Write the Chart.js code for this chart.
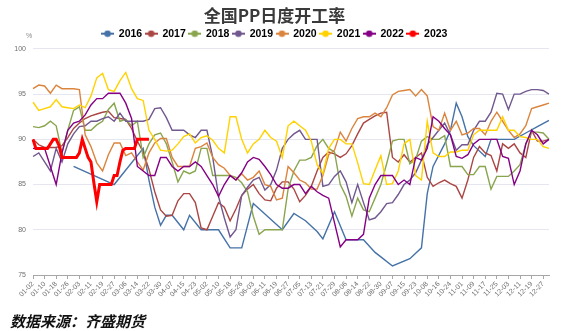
<!DOCTYPE html>
<html>
<head>
<meta charset="utf-8">
<script src="https://cdn.jsdelivr.net/npm/chart.js@4.4.1/dist/chart.umd.min.js"></script>
<style>
  body { margin: 0; background: #fff; }
  #wrap { position: relative; width: 566px; height: 331px; }
  #source {
    position: absolute; left: 10px; top: 312px;
    font: italic bold 15px "Noto Sans CJK SC", sans-serif;
    line-height: 18px; color: #111;
  }
</style>
</head>
<body>
<div id="wrap">
  <canvas id="rateChart" width="566" height="331"></canvas>
  <div id="source">数据来源：齐盛期货</div>
</div>
<script>
// daily calendar (leap-year layout), May Day and the October holiday are left out
const HOLIDAYS = ["05-01", "10-01", "10-02", "10-03", "10-04", "10-05", "10-06", "10-07"];
const days = [];
for (let d = new Date(2020, 0, 2); d.getFullYear() === 2020; d.setDate(d.getDate() + 1)) {
  const md = String(d.getMonth() + 1).padStart(2, "0") + "-" + String(d.getDate()).padStart(2, "0");
  if (!HOLIDAYS.includes(md)) days.push(md);
}

const years = ["2016", "2017", "2018", "2019", "2020", "2021", "2022", "2023"];
const colors = ["#4572A7", "#AA4643", "#89A54E", "#71588F", "#DB843D", "#FFD200", "#850085", "#FF0000"];

// utilisation rate (%), one value every 4 days, null = no reading
const y2016 = [
  null, null, null, null, null, null, null, 87, null, null,
  null, null, null, null, 85, null, null, null, null, 89,
  85.5, 82.5, 80.5, 81.6, 81.6, null, 80, 81.6, null, 80,
  null, null, 80, null, 78, null, 78, null, 82.9, null,
  null, null, null, 80, null, 81.8, null, 81, null, 79.8,
  79, null, 82, null, 78.9, null, null, 78.9, null, 77.5,
  77, null, 76, null, null, 76.8, null, 78, 84, 87,
  null, 89.5, 91, 94, 92.5, 90.3, 89.3, null, 88.1, 90,
  null, null, null, 90, null, 90.7, null, 91.4, null, 92.1
];
const y2017 = [
  90, 89.4, 89.1, 89.1, 89.1, 89.3, 90.2, 91.2, 91.8, 92.3,
  92.6, 92.8, 93, 93.1, 92.4, 92.3, 92.2, 91.2, 89.8, 88.6,
  86.7, 84.2, 82.2, 81.5, 81.6, 83.2, 84, 84, 83, 80.2,
  80, 81.5, 83, 82.5, 81, 82.3, 83.8, 84.5, 85, 84,
  83.3, 83.2, 84.6, 85.3, 85.3, 84.5, 83.1, 83.8, 84.8, 86.5,
  88, 88.6, 88.4, 88, 88.4, 89.3, 90.6, 91.8, 92.2, 92.6,
  92.9, 93, 88, 87.5, 88.3, 87.5, 88, 88.5, 85.8, 84.8,
  85.2, 85.5, 85.1, 84.8, 83.5, 85.5, 88, 89.2, 88.5, 88.2,
  86.5, 89.5, 89, 89.5, 88.5, 88, 91, 89.8, 89.8, 90
];
const y2018 = [
  91.4, 91.3, 91.5, 92, 91.5, 88.5, 91, 93.2, 93.6, 91,
  91, 91.6, 92, 93.3, 94, 92, 92.2, 91.5, 92, 88,
  89.5, 90.5, 90.7, 89.5, 87.5, 85.3, 86.5, 86.2, 86.5, 89,
  89, 86, 86, 86, 86, 85.8, 85.2, 84.2, 81.5, 79.5,
  80, 80, 80, 80, 84.5, 86.5, 87.7, 87.7, 88, 89.3,
  90, 89, 88.6, 85, 83.7, 81.5, 83.5, 82.2, 82, 83.5,
  85, 87.3, 89.8, 90, 90, 87.3, 87.8, 89.8, 90.3, 90,
  90, 90.4, 87, 87, 87, 86.1, 86.1, 87, 87, 84.5,
  85.9, 85.9, 85.9, 86.5, 87.2, 89.5, 90.8, 90.8, 90.7, 90
];
const y2019 = [
  88.1, 88.5, 87.5, 86.5, 89, 87.5, 89.5, 90.6, 91.4, 91.5,
  92, 92, 92.3, 92.5, 92, 92.9, 92, 92, 92, 92,
  92.2, 93.4, 93.5, 92.4, 91, 91, 91, 90.5, 90.2, 91,
  91, 88, 83.7, 81.3, 79.2, 80, 83.8, 84.7, 85.5, 85.8,
  84.4, 85, 86.6, 89, 90, 90.6, 91, 90, 90, 90,
  84.8, 85, 85.9, 86.5, 85.3, 83, 85, 83, 81.1, 81.3,
  82, 82.9, 83, 83.9, 85, 85.5, 86.3, 87.7, 89.4, 90.2,
  91, 91.8, 90.5, 88.8, 89.4, 89.4, 91, 92, 92, 93,
  95.1, 95, 93.3, 95, 95, 95.3, 95.5, 95.5, 95.4, 95
];
const y2020 = [
  95.6, 96, 95.9, 95.1, 96, 95.6, 95.6, 95.6, 95.5, 90.5,
  89.2, 87.4, 86.5, 88.3, 89.6, 89.6, 88.2, 88.5, 87.5, 86.6,
  88.5, 89.6, 90.1, 90.1, 88, 87, 87, 87, 89, 89.2,
  89.6, 88, 87.2, 86.8, 86, 85.5, 86.2, 85.5, 85.8, 86.5,
  85, 84.8, 83.3, 83.5, 87, 86.3, 85.5, 85.2, 84.5, 84.5,
  86, 88.3, 88.8, 90.8, 89.8, 91.2, 92.3, 92.5, 92.5, 92.9,
  92.5, 93.5, 94.9, 95.3, 95.4, 95.5, 94.8, 95.5, 94.8, 91.4,
  91, 92.9, 91, 92, 90.5, 90.7, 91.2, 91.2, 90.5, 92,
  93, 92, 91, 90.2, 90.6, 91.5, 93.4, 93.6, 93.8, 94
];
const y2021 = [
  94.1, 93.2, 93.4, 93.6, 94.4, 93.6, 93.5, 93.4, 93.8, 93.5,
  94.8, 96.8, 97.3, 95.5, 95.3, 96.5, 97.4, 95.6, 94.5, 94.3,
  91, 90, 88.8, 88.7, 88.8, 89.5, 90.3, 90.6, 89.6, 90.2,
  90.4, 89.9, 89, 88.5, 92.5, 92.5, 90, 88.5, 89.5, 90,
  91, 90.2, 89.8, 88, 91.5, 92, 91.5, 91, 89.8, 87.2,
  86.2, 89, 90, 90, 89.5, 89.5, 87.4, 85.1, 85, 86.6,
  88.2, 85, 85.1, 86.5, 89.5, 90, 86, 85.5, 92, 88.5,
  88.1, 88.1, 88.6, 88.6, 88.8, 88.8, 90.5, 91, 91, 91,
  91, 92.5, 91, 91, 90.3, 90.2, 90, 90, 89.2, 89
];
const y2022 = [
  89, 89, 89, 87, 85, 88.5, 91, 91.8, 92, 92.7,
  93.8, 94.5, 94.5, 95.1, 95.1, 95.1, 94, 92.3, 87, 86.5,
  86, 86, 88, 88, 87, 86.5, 87, 87, 87.5, 87,
  86, 85, 83.7, 85, 86, 85.5, 86.3, 87.5, 88, 87.8,
  87, 86.1, 85, 84.6, 84.6, 85, 85, 84, 84.8, 84.2,
  83.8, 83.5, 80.8, 78.1, 78.9, 78.9, 78.9, 79.5, 83.5, 85,
  86, 86, 86, 85, 85.5, 85, 88, 87.7, 89, 92.5,
  92, 91.2, 90.5, 88.1, 87.9, 88.3, 89.5, 90, 90, 90,
  90, 88.1, 87.9, 85, 86.5, 89.5, 91, 90.5, 89.5, 90
];
// 2023 so far, one value every 2 days
const y2023 = [
  90, 89, 89, 89, 89, 89, 89.5, 90, 90, 89.3,
  88, 88, 88, 88, 88, 88, 88.5, 90, 89, 88,
  87.5, 85.2, 83.1, 85, 85, 85, 85, 85, 86, 86,
  87.5, 88.8, 89, 89, 89, 89, 90, 90, 90, 90,
  90
];

const series = [y2016, y2017, y2018, y2019, y2020, y2021, y2022, y2023];
const steps = [4, 4, 4, 4, 4, 4, 4, 2];

function toPoints(values, step) {
  const pts = [];
  values.forEach((v, i) => {
    if (v !== null) pts.push({ x: days[i * step], y: v });
  });
  return pts;
}

// small "-o-" swatch for the legend
function legendMarker(color) {
  const c = document.createElement("canvas");
  c.width = 13;
  c.height = 8;
  const g = c.getContext("2d");
  g.strokeStyle = color;
  g.lineWidth = 2;
  g.beginPath();
  g.moveTo(0, 4);
  g.lineTo(13, 4);
  g.stroke();
  g.fillStyle = color;
  g.beginPath();
  g.arc(6.5, 4, 3.3, 0, Math.PI * 2);
  g.fill();
  return c;
}
const markers = colors.map(legendMarker);

const percentMark = {
  id: "percentMark",
  afterDraw(chart) {
    const { ctx, chartArea } = chart;
    ctx.save();
    ctx.font = '7px "Liberation Sans"';
    ctx.fillStyle = "#8a8a8a";
    ctx.textAlign = "center";
    ctx.textBaseline = "middle";
    ctx.fillText("%", chartArea.left - 4, chartArea.top - 13);
    ctx.restore();
  }
};

const datasets = years.map((yr, i) => ({
  label: yr,
  data: toPoints(series[i], steps[i]),
  borderColor: colors[i],
  backgroundColor: colors[i],
  borderWidth: yr === "2023" ? 3 : 1.4,
  pointRadius: 0,
  tension: 0,
  order: -i
}));

new Chart(document.getElementById("rateChart"), {
  type: "line",
  data: { labels: days, datasets },
  options: {
    responsive: false,
    animation: false,
    events: [],
    layout: { padding: { left: 0, right: 17, top: 0, bottom: 0 } },
    plugins: {
      title: {
        display: true,
        text: "全国PP日度开工率",
        color: "#3a3a3a",
        font: { family: "Noto Sans CJK SC", size: 17, weight: "bold" },
        padding: { top: 5, bottom: 0 }
      },
      legend: {
        display: true,
        labels: {
          usePointStyle: true,
          pointStyleWidth: 12,
          padding: 3,
          color: "#333",
          font: { family: "Liberation Sans", size: 10.5, weight: "bold" },
          generateLabels: chart => chart.data.datasets.map((ds, i) => ({
            text: ds.label,
            fillStyle: ds.borderColor,
            strokeStyle: ds.borderColor,
            lineWidth: 0,
            pointStyle: markers[i],
            hidden: !chart.isDatasetVisible(i),
            datasetIndex: i
          }))
        }
      },
      tooltip: { enabled: false }
    },
    scales: {
      x: {
        type: "category",
        offset: false,
        afterFit: scale => { scale.height = 56; },
        border: { color: "#a6a6a6" },
        grid: { drawOnChartArea: false, tickLength: 4, color: "#a6a6a6" },
        ticks: {
          autoSkip: false,
          minRotation: 45,
          maxRotation: 45,
          padding: 1,
          color: "#6e6e6e",
          font: { family: "Liberation Sans", size: 7 },
          callback(val, i) {
            return i % 8 === 0 ? this.getLabelForValue(val) : null;
          }
        }
      },
      y: {
        min: 75,
        max: 100,
        afterFit: scale => { scale.width = 33; },
        border: { display: false },
        grid: { color: "#e6e6f0", drawTicks: false },
        ticks: {
          stepSize: 5,
          padding: 7,
          color: "#6e6e6e",
          font: { family: "Liberation Sans", size: 7 }
        }
      }
    }
  },
  plugins: [percentMark]
});
</script>
</body>
</html>
